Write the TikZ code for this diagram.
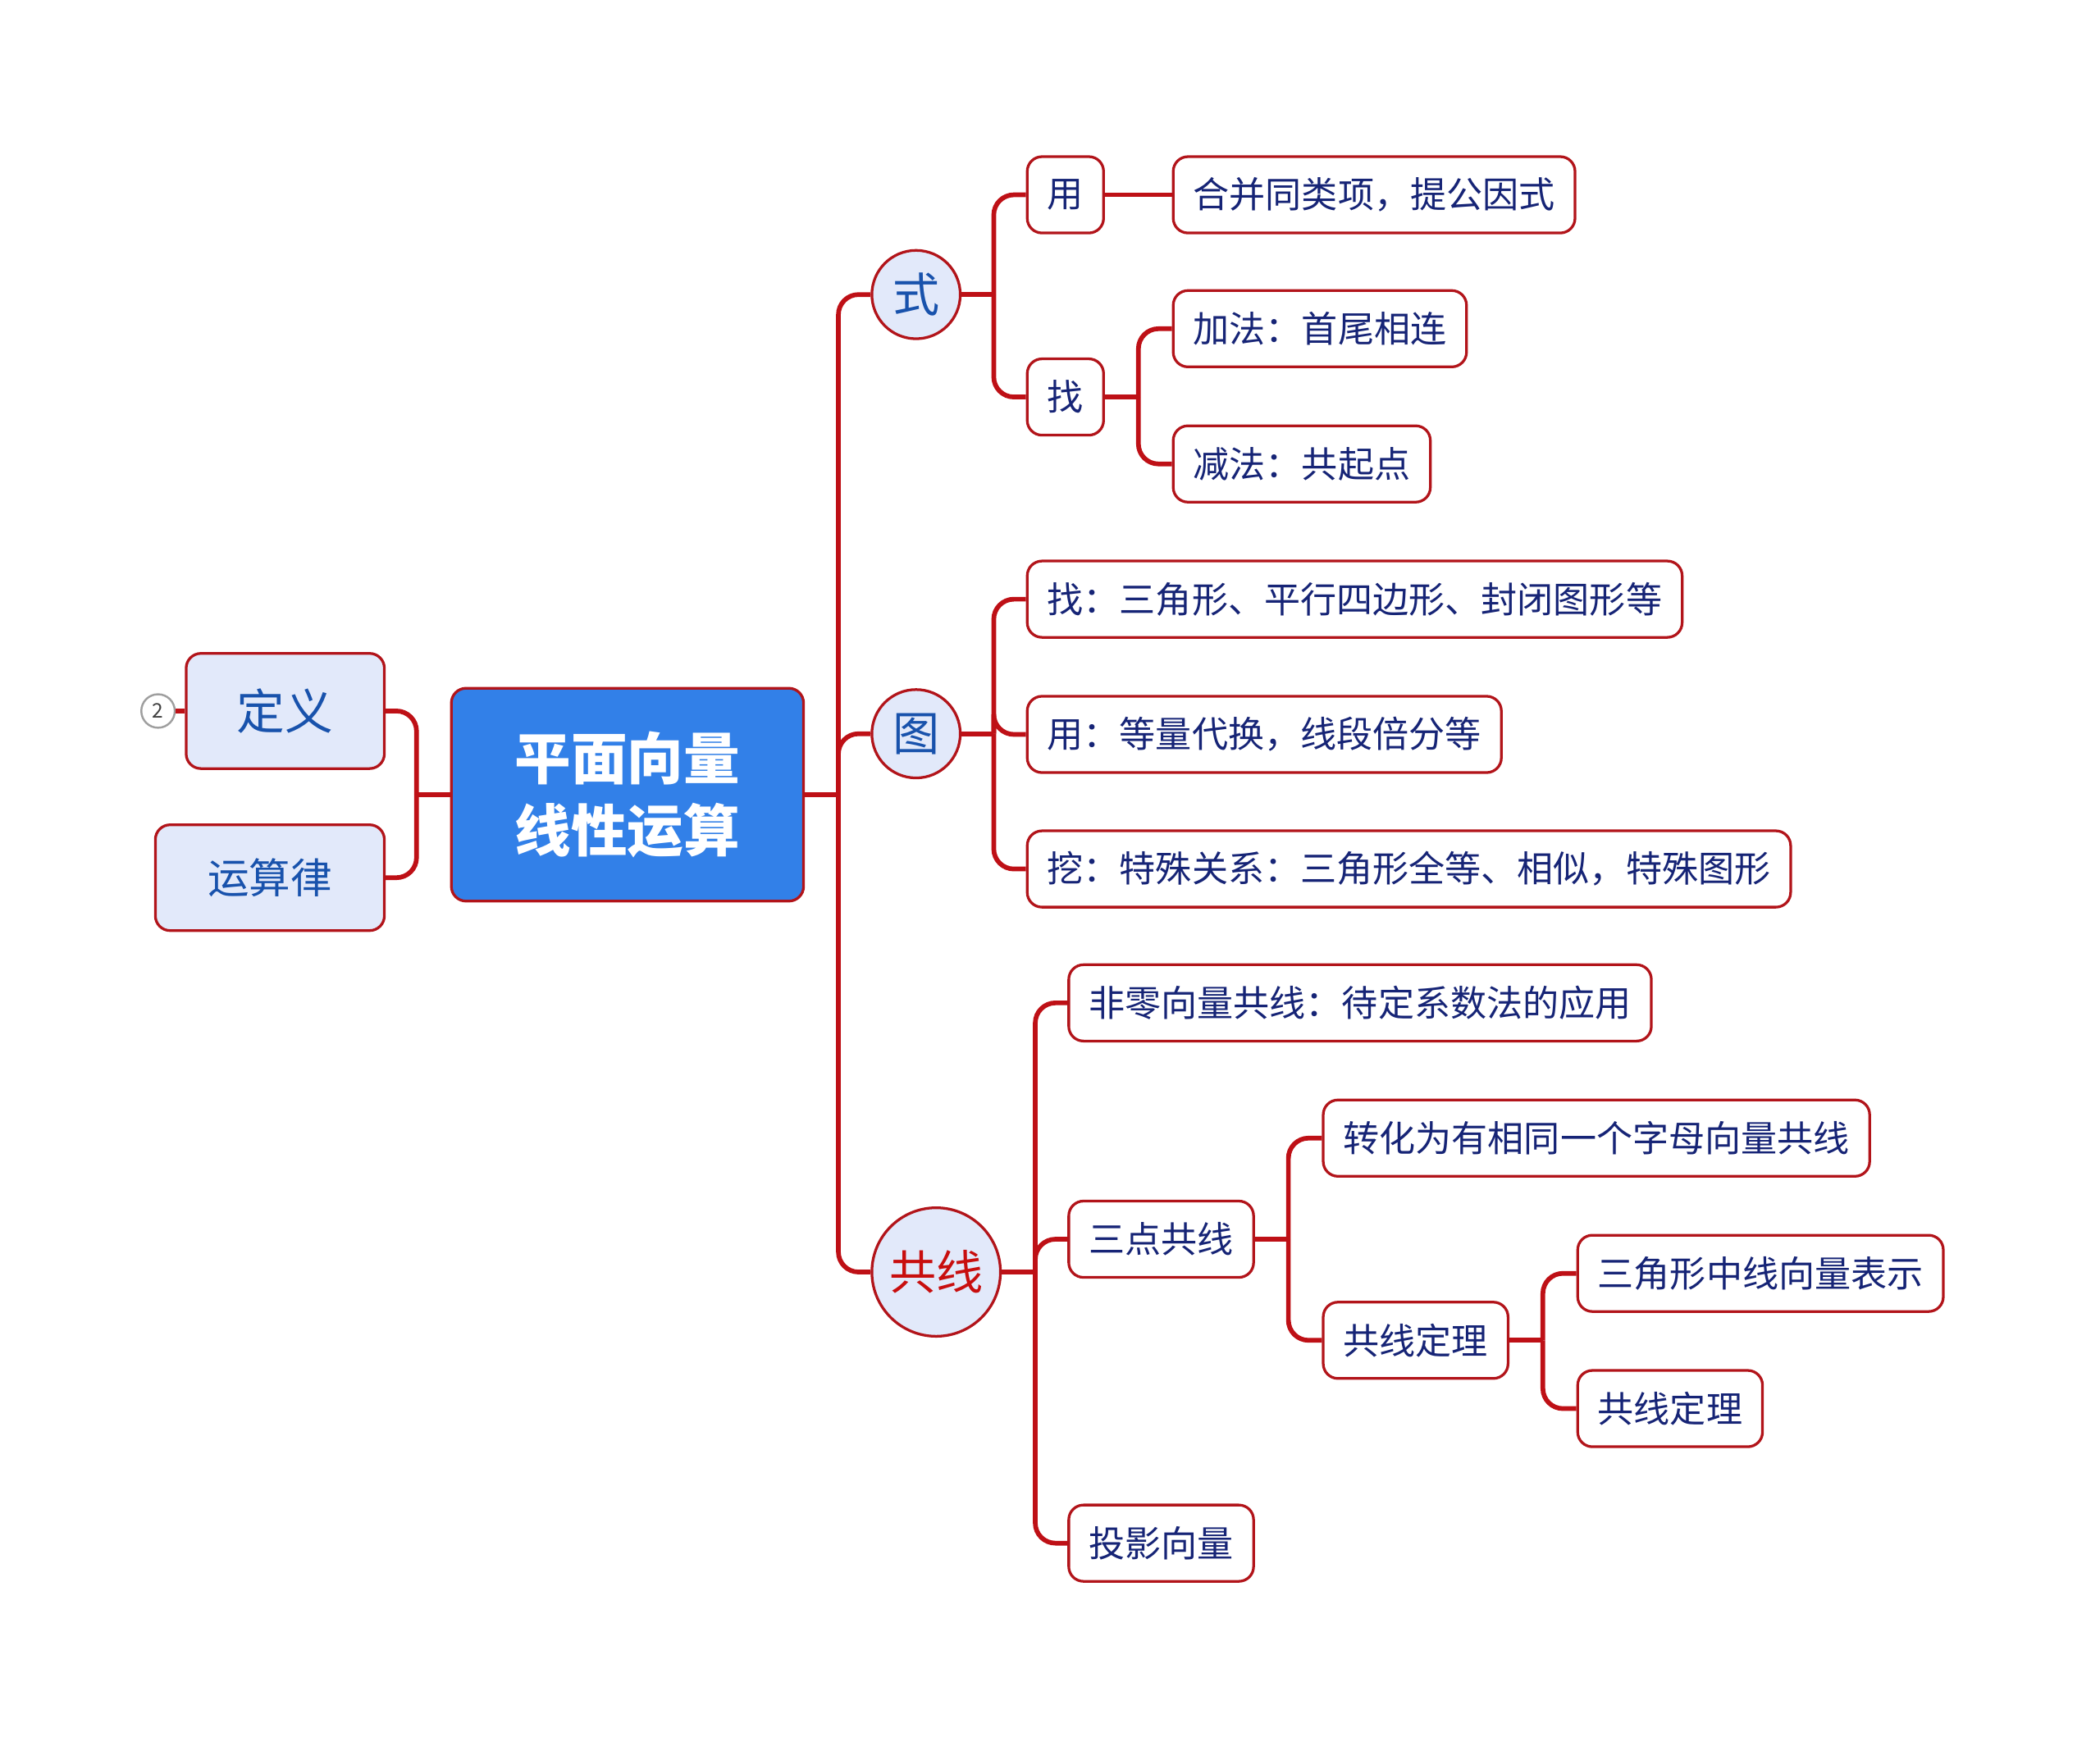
\documentclass[tikz,border=0pt]{standalone}
\usepackage{fontspec}
\setmainfont{Noto Sans CJK SC}
\usetikzlibrary{positioning}

\definecolor{linkred}{RGB}{190,16,22}
\definecolor{rimred}{RGB}{178,20,26}
\definecolor{paleblue}{RGB}{226,233,250}
\definecolor{rootblue}{RGB}{50,128,232}
\definecolor{hubtext}{RGB}{24,82,172}
\definecolor{leaftext}{RGB}{22,36,118}
\definecolor{redtext}{RGB}{200,14,14}

\begin{document}
\begin{tikzpicture}[x=1pt,y=-1pt,
    conn/.style={draw=linkred,line width=3.5pt,rounded corners=15pt},
    box/.style={draw=rimred,line width=2pt,rounded corners=11pt},
    leaf/.style={box,fill=white,text=leaftext,anchor=west,
                 font=\fontsize{27}{32}\selectfont,inner xsep=15pt,minimum height=57pt},
    side/.style={box,fill=paleblue,text=hubtext,inner sep=0pt},
    hub/.style={circle,draw=rimred,line width=2pt,fill=paleblue,text=hubtext,
                inner sep=0pt,minimum size=66pt,font=\fontsize{35}{40}\selectfont}]
  \useasboundingbox (0,0) rectangle (1568,1297);

  % centre and left side
  \node[box,fill=rootblue,text=white,align=center,minimum width=263pt,minimum height=159pt,
        font=\fontsize{42}{54}\selectfont\bfseries] (root) at (468.5,593.5) {平面向量\\线性运算};
  \node[side,minimum width=148pt,minimum height=86pt,font=\fontsize{36}{40}\selectfont]
        (dingyi) at (213,531) {定义};
  \node[side,minimum width=171pt,minimum height=79pt,font=\fontsize{31}{36}\selectfont]
        (yunsuan) at (201.5,655.5) {运算律};
  \node[circle,draw=gray!75,line width=1.5pt,fill=white,inner sep=0pt,minimum size=25pt,
        text=black!75,font=\fontsize{15}{18}\selectfont] (badge) at (118,531) {2};

  % first level
  \node[hub] (shi) at (684,220) {式};
  \node[hub] (tu)  at (684,548) {图};
  \node[hub,minimum size=96pt,text=redtext] (gongxian) at (699,950) {共线};

  % 式
  \node[leaf] (yong)   at (766,145.5) {用};
  \node[leaf] (zhao)   at (766,296.5) {找};
  \node[leaf] (hebing) [right=50pt of yong] {合并同类项，提公因式};
  \node[leaf] (jiafa)  at (875,245.5) {加法：首尾相连};
  \node[leaf] (jianfa) at (875,346.5) {减法：共起点};

  % 图
  \node[leaf] (tuzhao) at (766,447.5) {找：三角形、平行四边形、封闭图形等};
  \node[leaf] (tuyong) at (766,548.5) {用：等量代换，线段倍分等};
  \node[leaf] (wa)     at (766,649)   {挖：特殊关系：三角形全等、相似，特殊图形};

  % 共线
  \node[leaf] (feiling)   at (797,749)    {非零向量共线：待定系数法的应用};
  \node[leaf] (sandian)   at (797,925.5)  {三点共线};
  \node[leaf] (touying)   at (797,1152.5) {投影向量};
  \node[leaf] (zhuanhua)  at (987,850)    {转化为有相同一个字母向量共线};
  \node[leaf] (dingli)    at (987,1001)   {共线定理};
  \node[leaf] (zhongxian) at (1177,951)   {三角形中线向量表示};
  \node[leaf] (dingliB)   at (1177,1052)  {共线定理};

  % junctions
  \coordinate (rootR) at ([xshift=25pt]root.east);
  \coordinate (rootL) at ([xshift=-25pt]root.west);
  \coordinate (shiJ)  at ([xshift=24pt]shi.east);
  \coordinate (zhaoJ) at ([xshift=25pt]zhao.east);
  \coordinate (tuJ)   at ([xshift=24pt]tu.east);
  \coordinate (gxJ)   at ([xshift=25pt]gongxian.east);
  \coordinate (sdJ)   at ([xshift=25pt]sandian.east);
  \coordinate (dlJ)   at ([xshift=25pt]dingli.east);

  % connectors
  \draw[conn] (root.east) -- (rootR);
  \draw[conn] (root.west) -- (rootL);
  \foreach \c in {shi,tu,gongxian} \draw[conn] (rootR) |- (\c.west);
  \foreach \c in {dingyi,yunsuan} \draw[conn] (rootL) |- (\c.east);
  \draw[conn] (badge) -- (dingyi.west);

  \draw[conn] (shi.east) -- (shiJ);
  \foreach \c in {yong,zhao} \draw[conn] (shiJ) |- (\c.west);
  \draw[conn] (yong) -- (hebing);
  \draw[conn] (zhao.east) -- (zhaoJ);
  \foreach \c in {jiafa,jianfa} \draw[conn] (zhaoJ) |- (\c.west);

  \draw[conn] (tu.east) -- (tuJ);
  \foreach \c in {tuzhao,tuyong,wa} \draw[conn] (tuJ) |- (\c.west);

  \draw[conn] (gongxian.east) -- (gxJ);
  \foreach \c in {feiling,sandian,touying} \draw[conn] (gxJ) |- (\c.west);
  \draw[conn] (sandian.east) -- (sdJ);
  \foreach \c in {zhuanhua,dingli} \draw[conn] (sdJ) |- (\c.west);
  \draw[conn] (dingli.east) -- (dlJ);
  \foreach \c in {zhongxian,dingliB} \draw[conn] (dlJ) |- (\c.west);
\end{tikzpicture}
\end{document}
